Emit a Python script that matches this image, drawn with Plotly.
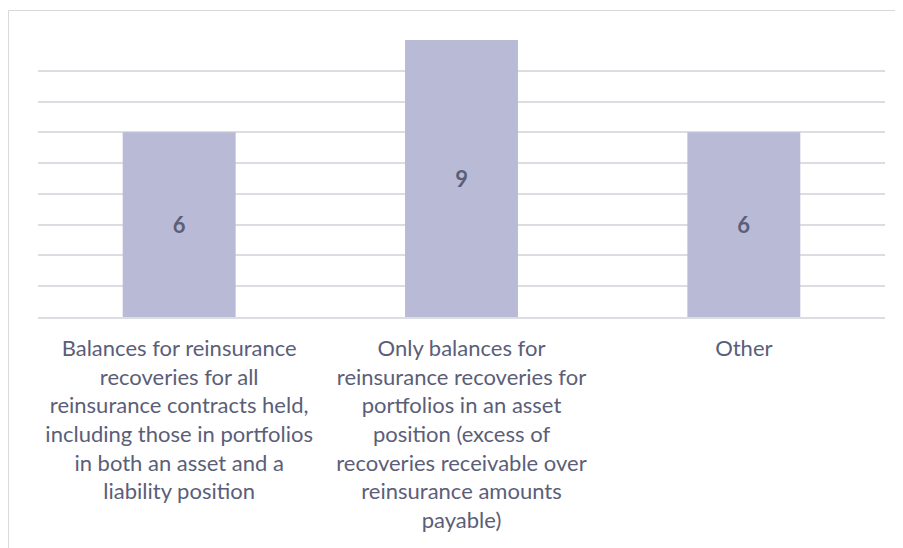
import plotly.graph_objects as go

categories = [
    "Balances for reinsurance<br>recoveries for all<br>reinsurance contracts held,<br>including those in portfolios<br>in both an asset and a<br>liability position",
    "Only balances for<br>reinsurance recoveries for<br>portfolios in an asset<br>position (excess of<br>recoveries receivable over<br>reinsurance amounts<br>payable)",
    "Other",
]
values = [6, 9, 6]

text_color = "#5b5e78"
grid_color = "#dcdce3"

# page body has an 8px offset; plot area spans page x 38..885, y 39.5..316.7
W, H = 895, 540
L, T = 30, 31.5
PW, PH = 847, 277.2
B = H - T - PH
R = W - L - PW

fig = go.Figure(
    go.Bar(
        x=categories,
        y=values,
        text=[str(v) for v in values],
        textposition="inside",
        insidetextanchor="middle",
        textfont=dict(family="Lato", size=22, color=text_color, weight="bold"),
        marker=dict(color="#b8bad6", line=dict(width=0)),
        hoverinfo="skip",
    )
)

bx = (0.5 - L) / PW
by = (T + PH - 2) / PH

fig.update_layout(
    width=W,
    height=H,
    margin=dict(l=L, r=R, t=T, b=B),
    paper_bgcolor="white",
    plot_bgcolor="white",
    bargap=0.6,
    showlegend=False,
    font=dict(family="Lato", size=22, color=text_color),
    xaxis=dict(
        showgrid=False,
        showline=True,
        linecolor=grid_color,
        linewidth=1.5,
        ticks="",
        tickfont=dict(family="Lato", size=22, color=text_color),
        ticklabelstandoff=11,
    ),
    yaxis=dict(
        range=[0, 9],
        dtick=1,
        showgrid=True,
        gridcolor=grid_color,
        gridwidth=1.5,
        showticklabels=False,
        zeroline=False,
        showline=False,
    ),
    shapes=[
        dict(type="line", xref="paper", yref="paper",
             x0=bx, x1=1.2, y0=by, y1=by,
             line=dict(color="#d9d9d9", width=1)),
        dict(type="line", xref="paper", yref="paper",
             x0=bx, x1=bx, y0=-1, y1=by,
             line=dict(color="#d9d9d9", width=1)),
    ],
)

fig.write_html("out.html")
